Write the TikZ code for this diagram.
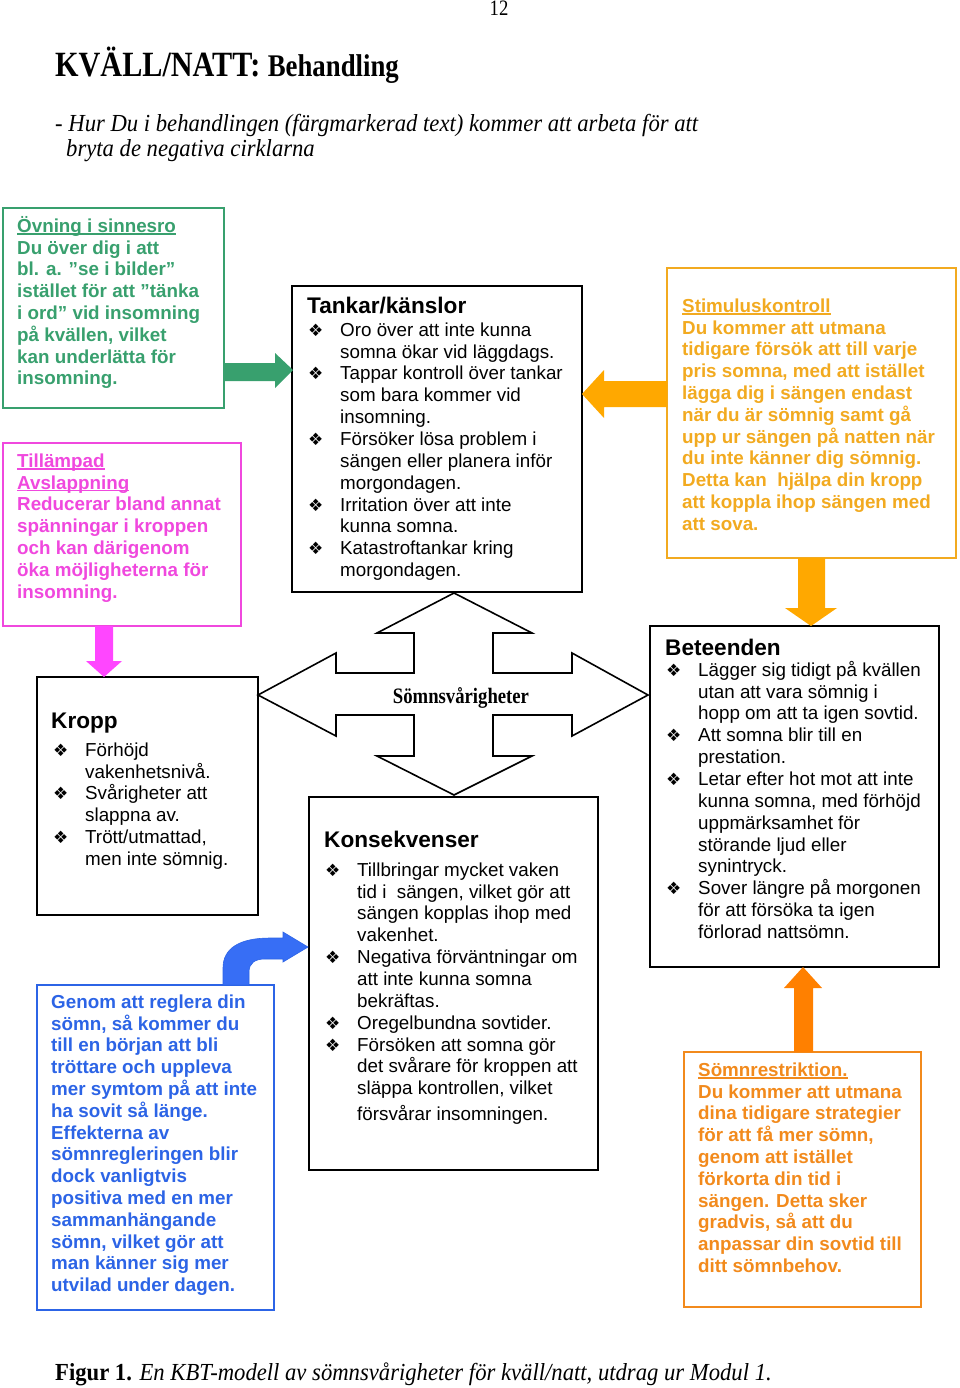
\documentclass[tikz,border=0pt]{standalone}
\usepackage{fontspec}
\setmainfont{Liberation Sans}
\newfontfamily\serifc[FakeStretch=0.85]{Liberation Serif}
\newfontfamily\serifi[FakeStretch=0.925]{Liberation Serif}
\newfontfamily\dingf{DejaVu Sans}
\usetikzlibrary{calc}
\definecolor{cgreen}{RGB}{56,160,110}
\definecolor{cmag}{RGB}{240,72,222}
\definecolor{corgA}{RGB}{242,170,32}
\definecolor{corgB}{RGB}{242,138,28}
\definecolor{cblue}{RGB}{44,100,230}
\definecolor{fmag}{RGB}{255,70,255}
\definecolor{forgA}{RGB}{255,168,0}
\definecolor{forgB}{RGB}{255,128,0}
\definecolor{fblue}{RGB}{55,110,245}
\newcommand{\bul}{\makebox[32pt][l]{\dingf\fontsize{17}{17}\selectfont ❖}}
\newcommand{\ind}{\makebox[32pt]{}}
\newcommand{\fs}{\rule{0pt}{18pt}}
\newcommand{\hs}{\rule{0pt}{22pt}}
\newcommand{\ul}[1]{\setbox0\hbox{#1}\rlap{\rule[-2.4pt]{\wd0}{1.3pt}}\box0}
\newcommand{\lsk}{\lineskiplimit=-50pt\relax\lineskip=0pt\relax}
\lineskiplimit=-50pt
\lineskip=0pt
\tikzset{
  frame/.style={anchor=north west, inner sep=0pt, outer sep=0pt, fill=white},
  blackbox/.style={frame, draw=black, line width=1.8pt},
  colbox/.style={frame, draw=#1, line width=1.5pt},
  txt/.style={anchor=north west, inner sep=0pt, align=left,
    font=\fontsize{18.8}{21.85}\selectfont\lsk},
  ctxt/.style={txt, text=#1, font=\fontsize{18.8}{21.8}\selectfont\bfseries\lsk},
  hdr/.style={anchor=north west, inner sep=0pt, align=left,
    font=\fontsize{22.6}{26}\selectfont\bfseries},
  serif/.style={inner sep=0pt, anchor=base west}
}
\begin{document}
\begin{tikzpicture}[x=1pt,y=-1pt]
\useasboundingbox[fill=white] (0,0) rectangle (960,1388);

% header texts
\node[serif, anchor=base] (pnum) at (499,16) {\serifc\fontsize{22}{24}\selectfont 12};
\node[serif] (title) at (55,77) {\serifc\bfseries\fontsize{35.5}{40}\selectfont KVÄLL/NATT: \fontsize{31.5}{36}\selectfont Behandling};
\node[serif] (sub1) at (55,132) {\serifi\itshape\fontsize{24.5}{26}\selectfont - Hur Du i behandlingen (färgmarkerad text) kommer att arbeta för att};
\node[serif] (sub2) at (66,157) {\serifi\itshape\fontsize{24.5}{26}\selectfont bryta de negativa cirklarna};
\node[serif] (cap) at (55,1380) {\serifi\fontsize{24.5}{26}\selectfont\textbf{Figur 1.} \textit{En KBT-modell av sömnsvårigheter för kväll/natt, utdrag ur Modul 1.}};

% boxes
\node[colbox=cgreen, minimum width=221pt, minimum height=200pt] (ovn) at (3,208) {};
\node[colbox=cmag, minimum width=238pt, minimum height=183pt] (avs) at (3,443) {};
\node[blackbox, minimum width=290pt, minimum height=306pt] (tank) at (292,286) {};
\node[colbox=corgA, minimum width=289pt, minimum height=290pt] (stim) at (667,268) {};
\node[blackbox, minimum width=221pt, minimum height=238pt] (kropp) at (37,677) {};
\node[blackbox, minimum width=289pt, minimum height=341pt] (bet) at (650,626) {};
\node[blackbox, minimum width=289pt, minimum height=373pt] (kons) at (309,797) {};
\node[colbox=cblue, minimum width=237pt, minimum height=325pt] (reg) at (37,985) {};
\node[colbox=corgB, minimum width=237pt, minimum height=255pt] (rest) at (684,1052) {};

% box texts
\node[ctxt=cgreen] (ovnT) at (17,214) {\fs\ul{Övning i sinnesro}\\
Du över dig i att\\
bl. a. ”se i bilder”\\
istället för att ”tänka\\
i ord” vid insomning\\
på kvällen, vilket\\
kan underlätta för\\
insomning.};

\node[ctxt=cmag] (avsT) at (17,449) {\fs\ul{Tillämpad}\\
\ul{Avslappning}\\
Reducerar bland annat\\
spänningar i kroppen\\
och kan därigenom\\
öka möjligheterna för\\
insomning.};

\node[hdr] (tankH) at (307,291) {\hs Tankar/känslor};
\node[txt] (tankT) at (308,318) {\fs\bul Oro över att inte kunna\\
\ind somna ökar vid läggdags.\\
\bul Tappar kontroll över tankar\\
\ind som bara kommer vid\\
\ind insomning.\\
\bul Försöker lösa problem i\\
\ind sängen eller planera inför\\
\ind morgondagen.\\
\bul Irritation över att inte\\
\ind kunna somna.\\
\bul Katastroftankar kring\\
\ind morgondagen.};

\node[ctxt=corgA] (stimT) at (682,294) {\fs\ul{Stimuluskontroll}\\
Du kommer att utmana\\
tidigare försök att till varje\\
pris somna, med att istället\\
lägga dig i sängen endast\\
när du är sömnig samt gå\\
upp ur sängen på natten när\\
du inte känner dig sömnig.\\
Detta kan\ \ hjälpa din kropp\\
att koppla ihop sängen med\\
att sova.};

\node[hdr] (kroppH) at (51,706) {\hs Kropp};
\node[txt] (kroppT) at (53,738) {\fs\bul Förhöjd\\
\ind vakenhetsnivå.\\
\bul Svårigheter att\\
\ind slappna av.\\
\bul Trött/utmattad,\\
\ind men inte sömnig.};

\node[hdr] (betH) at (665,633) {\hs Beteenden};
\node[txt] (betT) at (666,658) {\fs\bul Lägger sig tidigt på kvällen\\
\ind utan att vara sömnig i\\
\ind hopp om att ta igen sovtid.\\
\bul Att somna blir till en\\
\ind prestation.\\
\bul Letar efter hot mot att inte\\
\ind kunna somna, med förhöjd\\
\ind uppmärksamhet för\\
\ind störande ljud eller\\
\ind synintryck.\\
\bul Sover längre på morgonen\\
\ind för att försöka ta igen\\
\ind förlorad nattsömn.};

\node[hdr] (konsH) at (324,825) {\hs Konsekvenser};
\node[txt] (konsT) at (325,858) {\fs\bul Tillbringar mycket vaken\\
\ind tid i\ \ sängen, vilket gör att\\
\ind sängen kopplas ihop med\\
\ind vakenhet.\\
\bul Negativa förväntningar om\\
\ind att inte kunna somna\\
\ind bekräftas.\\
\bul Oregelbundna sovtider.\\
\bul Försöken att somna gör\\
\ind det svårare för kroppen att\\
\ind släppa kontrollen, vilket\\[4pt]
\ind försvårar insomningen.};

\node[ctxt=cblue] (regT) at (51,990) {\fs Genom att reglera din\\
sömn, så kommer du\\
till en början att bli\\
tröttare och uppleva\\
mer symtom på att inte\\
ha sovit så länge.\\
Effekterna av\\
sömnregleringen blir\\
dock vanligtvis\\
positiva med en mer\\
sammanhängande\\
sömn, vilket gör att\\
man känner sig mer\\
utvilad under dagen.};

\node[ctxt=corgB] (restT) at (698,1058) {\fs\ul{Sömnrestriktion.}\\
Du kommer att utmana\\
dina tidigare strategier\\
för att få mer sömn,\\
genom att istället\\
förkorta din tid i\\
sängen. Detta sker\\
gradvis, så att du\\
anpassar din sovtid till\\
ditt sömnbehov.};

% block arrows
\fill[cgreen] (224,363) -- (275,363) -- (275,353) -- (293,370) -- (275,388) -- (275,381) -- (224,381) -- cycle;
\fill[forgA] (667,381) -- (604,381) -- (604,370) -- (582,394) -- (604,418) -- (604,407) -- (667,407) -- cycle;
\fill[forgA] (798,558) -- (798,608) -- (785,608) -- (811,626) -- (837,608) -- (825,608) -- (825,558) -- cycle;
\fill[fmag] (95,626) -- (95,661) -- (86,661) -- (104,677) -- (122,661) -- (113,661) -- (113,626) -- cycle;
\fill[forgB] (794,1052) -- (794,988) -- (784,988) -- (803,967) -- (822,988) -- (813,988) -- (813,1052) -- cycle;
\filldraw[fill=fblue, draw=cblue, line width=0.6pt] (223,985) -- (223,968) .. controls (223,948) and (240,938) .. (270,938) -- (283,938) -- (283,932) -- (308,947) -- (283,962) -- (283,959) -- (265,959) .. controls (255,959) and (249,963) .. (249,972) -- (249,985) -- cycle;

% central four-way arrow
\draw[line width=1.6pt, fill=white, line join=miter]
 (454,593) -- (532,633) -- (493,633) -- (493,673) -- (572,673) -- (572,653) -- (648,695)
 -- (572,736) -- (572,715) -- (493,715) -- (493,756) -- (532,756) -- (454,795)
 -- (377,756) -- (414,756) -- (414,715) -- (336,715) -- (336,736) -- (258,695)
 -- (336,653) -- (336,673) -- (414,673) -- (414,633) -- (377,633) -- cycle;
\node[serif, anchor=base] (somn) at (461,703) {\serifc\bfseries\fontsize{22}{24}\selectfont Sömnsvårigheter};
\end{tikzpicture}
\end{document}
